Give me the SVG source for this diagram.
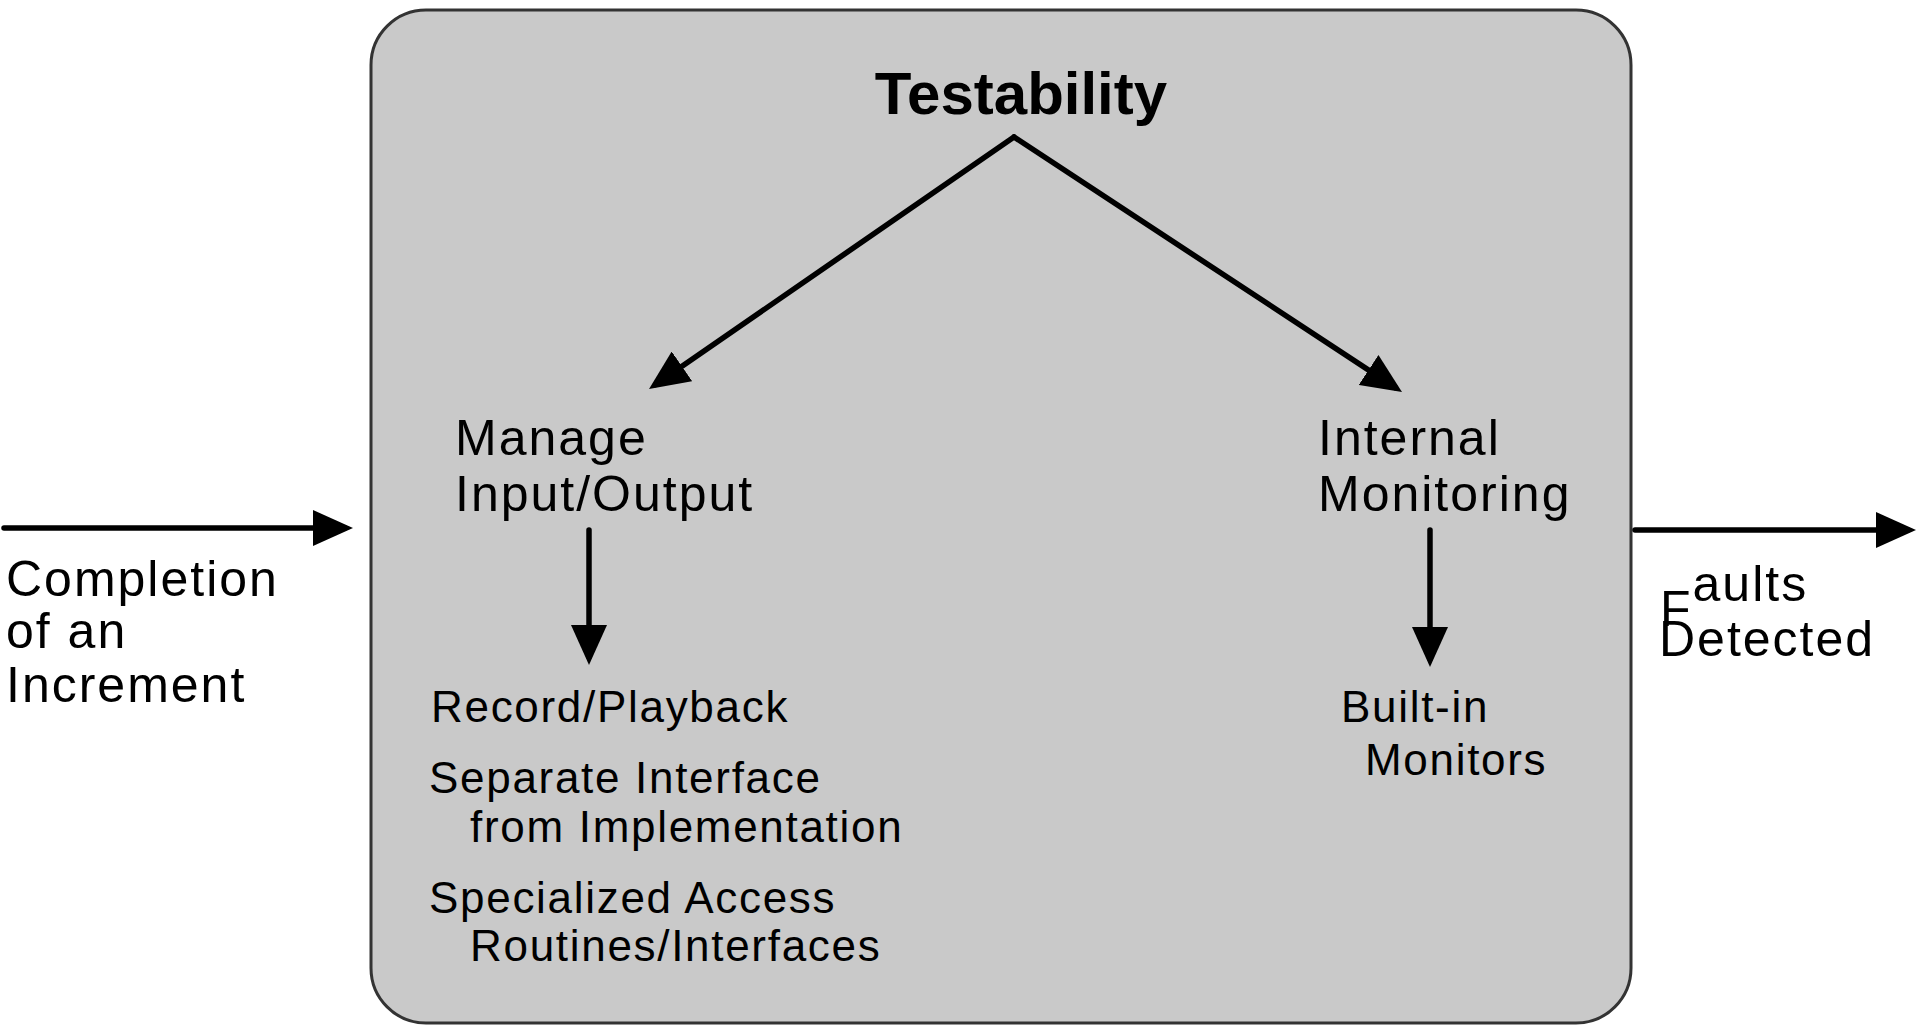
<svg xmlns="http://www.w3.org/2000/svg" width="1920" height="1026" viewBox="0 0 1920 1026">
<style>
text{font-family:"Liberation Sans",Arial,sans-serif;fill:#000}
.title{font-size:60px;font-weight:bold}
.lbl{font-size:50px;letter-spacing:2px}
.sub{font-size:44px;letter-spacing:1.7px}
.edge{stroke:#000;stroke-width:5.5;fill:none;stroke-linecap:round}
</style>
<defs>
<marker id="ah" viewBox="0 -18 40 36" markerUnits="userSpaceOnUse" markerWidth="40" markerHeight="36" refX="32" refY="0" orient="auto">
<path d="M0,-18 L40,0 L0,18 z" fill="#000"/>
</marker>
</defs>
<rect width="1920" height="1026" fill="#fff"/>
<g id="testability">
<rect x="371" y="10" width="1260" height="1013" rx="55" ry="55" fill="#c9c9c9" stroke="#333" stroke-width="3"/>
<text class="title" x="1021" y="114" text-anchor="middle">Testability</text>
</g>
<g id="manage-io">
<text class="lbl" x="455" y="455">Manage</text>
<text class="lbl" x="455" y="511">Input/Output</text>
</g>
<g id="manage-io-tactics">
<text class="sub" x="431" y="722">Record/Playback</text>
<text class="sub" x="429" y="793">Separate Interface</text>
<text class="sub" x="470" y="842">from Implementation</text>
<text class="sub" x="429" y="913">Specialized Access</text>
<text class="sub" x="470" y="961">Routines/Interfaces</text>
</g>
<g id="internal-monitoring">
<text class="lbl" x="1318" y="455">Internal</text>
<text class="lbl" x="1318" y="511">Monitoring</text>
</g>
<g id="built-in-monitors">
<text class="sub" x="1341" y="722">Built-in</text>
<text class="sub" x="1365" y="775">Monitors</text>
</g>
<g id="input-label">
<text class="lbl" x="6" y="596">Completion</text>
<text class="lbl" x="6" y="648">of an</text>
<text class="lbl" x="6" y="702">Increment</text>
</g>
<g id="output-label">
<text class="lbl" x="1660" y="626">F<tspan dy="-25">aults</tspan></text>
<text class="lbl" x="1659" y="656">Detected</text>
</g>
<g id="connectors">
<line class="edge" x1="1014" y1="137" x2="655.6" y2="384.5" marker-end="url(#ah)"/>
<line class="edge" x1="1014" y1="137" x2="1395.3" y2="387.6" marker-end="url(#ah)"/>
<line class="edge" x1="589" y1="530" x2="589" y2="657" marker-end="url(#ah)"/>
<line class="edge" x1="1430" y1="530" x2="1430" y2="659" marker-end="url(#ah)"/>
<line class="edge" x1="4" y1="528" x2="345" y2="528" marker-end="url(#ah)"/>
<line class="edge" x1="1635" y1="530" x2="1908" y2="530" marker-end="url(#ah)"/>
</g>
</svg>
